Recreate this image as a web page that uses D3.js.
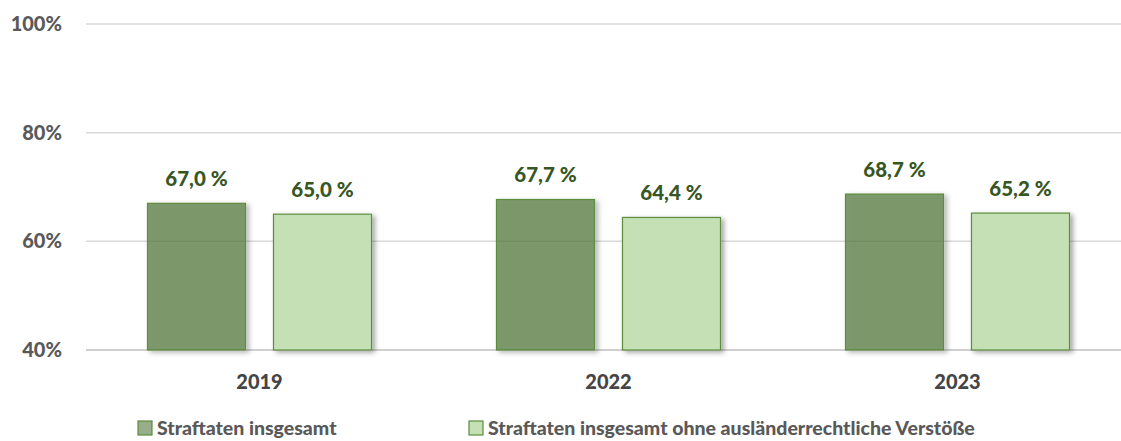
<!DOCTYPE html>
<html><head><meta charset="utf-8">
<script src="https://cdn.jsdelivr.net/npm/d3@7"></script>
<style>body{margin:0;background:#fff}svg{display:block}text{font-family:Lato,"Open Sans",sans-serif;font-weight:900}</style>
</head><body>
<svg id="c" width="1121" height="441"></svg>
<script>
const categories = ["2019","2022","2023"];
const seriesNames = ["Straftaten insgesamt","Straftaten insgesamt ohne ausländerrechtliche Verstöße"];
const seriesTotal = [67.0, 67.7, 68.7];
const seriesOhne = [65.0, 64.4, 65.2];
const yTicks = [40, 60, 80, 100];
const tickLabels = ["40%","60%","80%","100%"];

const svg = d3.select("#c");
const defs = svg.append("defs");
const f = defs.append("filter").attr("id","sh").attr("x","-20%").attr("y","-20%").attr("width","150%").attr("height","150%");
f.append("feGaussianBlur").attr("in","SourceAlpha").attr("stdDeviation",2.5).attr("result","b");
f.append("feOffset").attr("in","b").attr("dx",3).attr("dy",2).attr("result","o");
f.append("feComposite").attr("in","o").attr("in2","SourceAlpha").attr("operator","out").attr("result","cut");
f.append("feFlood").attr("flood-color","#000").attr("flood-opacity",0.35).attr("result","fl");
f.append("feComposite").attr("in","fl").attr("in2","cut").attr("operator","in").attr("result","shadow");
const m = f.append("feMerge");
m.append("feMergeNode").attr("in","shadow");
m.append("feMergeNode").attr("in","SourceGraphic");

const y = d3.scaleLinear().domain([40,100]).range([350,24]);
const x0 = d3.scaleBand().domain(categories).range([85,1132]);
const x1 = d3.scaleBand().domain([0,1]).range([0, x0.bandwidth()]).paddingInner(0.222).paddingOuter(0.496);

// grid
svg.append("g").selectAll("line").data(yTicks).join("line")
  .attr("x1",86).attr("x2",1121).attr("y1",d=>y(d)).attr("y2",d=>y(d))
  .attr("stroke",d=>d===40?"#d0d0d0":"#d9d9d9").attr("stroke-width",d=>d===40?2:1.5);

// y labels
svg.append("g").selectAll("text").data(yTicks).join("text")
  .attr("x",62).attr("y",d=>y(d)+7).attr("text-anchor","end")
  .attr("font-size",20).attr("fill","#595959").text((d,i)=>tickLabels[i]);

const data = [];
categories.forEach((c,i)=>{
  data.push({c, s:0, v:seriesTotal[i]});
  data.push({c, s:1, v:seriesOhne[i]});
});
const fills = ["#54783c","#c5e0b4"];
const opac = [0.75, 1];

svg.append("g").selectAll("rect").data(data).join("rect")
  .attr("x",d=>x0(d.c)+x1(d.s)).attr("width",x1.bandwidth())
  .attr("y",d=>y(d.v)).attr("height",d=>y(40)-y(d.v))
  .attr("fill",d=>fills[d.s]).attr("fill-opacity",d=>opac[d.s])
  .attr("stroke","#5b8c3c").attr("stroke-width",1.2)
  .attr("filter","url(#sh)");

svg.append("g").selectAll("text").data(data).join("text")
  .attr("x",d=>x0(d.c)+x1(d.s)+x1.bandwidth()/2).attr("y",d=>y(d.v)-17)
  .attr("text-anchor","middle").attr("font-size",20.5).attr("fill","#375623")
  .text(d=>d.v.toFixed(1).replace(".",",")+" %");

// category labels
svg.append("g").selectAll("text").data(categories).join("text")
  .attr("x",d=>x0(d)+x0.bandwidth()/2).attr("y",389).attr("text-anchor","middle")
  .attr("font-size",20).attr("fill","#454545").text(d=>d);

// legend
const legX = [138, 469];
const lg = svg.append("g").selectAll("g").data(seriesNames).join("g")
  .attr("transform",(d,i)=>`translate(${legX[i]},421)`);
lg.append("rect").attr("width",14).attr("height",14)
  .attr("fill",(d,i)=>fills[i]).attr("fill-opacity",(d,i)=>i===0?0.6:1)
  .attr("stroke","#5b8c3c").attr("stroke-width",1.2);
lg.append("text").attr("x",19).attr("y",14).attr("font-size",19.5).attr("fill","#595959").text(d=>d);
</script>
</body></html>
